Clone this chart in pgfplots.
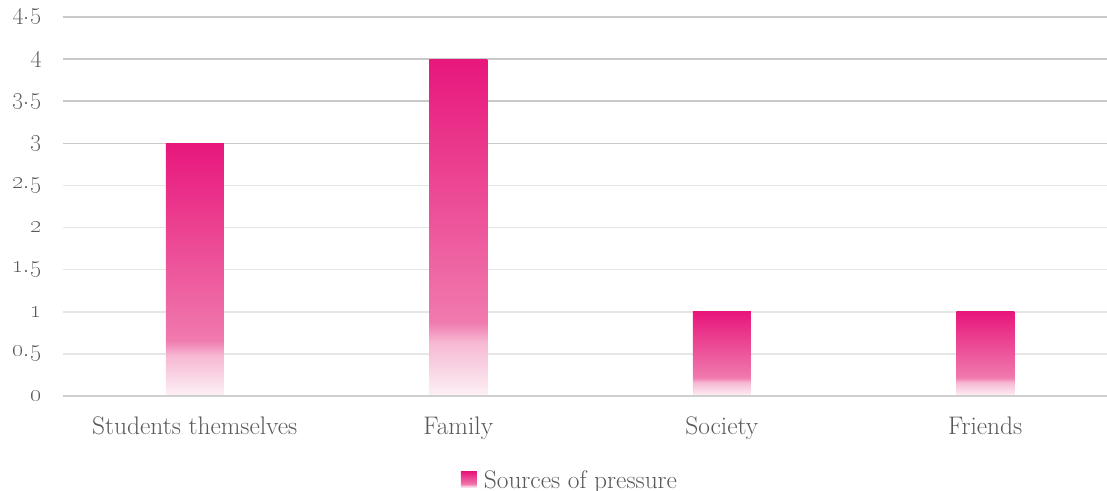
\documentclass[border=0pt]{standalone}
\usepackage{pgfplots}
\pgfplotsset{compat=1.18}
\definecolor{pinkTop}{HTML}{E8177C}
\definecolor{pinkMid}{HTML}{F07AAE}
\definecolor{pinkLight}{HTML}{F6B8D3}
\definecolor{pinkWhite}{HTML}{FDF1F6}
\definecolor{txt}{HTML}{595959}
\definecolor{gridA}{HTML}{C9C9C9}
\definecolor{gridB}{HTML}{E6E6E6}
\pgfdeclareverticalshading{barshade}{100bp}{color(0bp)=(pinkWhite); color(25bp)=(pinkWhite); color(33bp)=(pinkLight); color(36bp)=(pinkMid); color(75bp)=(pinkTop); color(100bp)=(pinkTop)}
\begin{document}
\begin{tikzpicture}
\begin{axis}[
  name=ax,
  scale only axis=true,
  width=1044bp, height=379bp,
  xmin=-0.5, xmax=3.462,
  ymin=0, ymax=4.5,
  axis line style={draw=none},
  ytick={0,0.5,1,1.5,2,2.5},
  yticklabels={\oldstylenums{0},\oldstylenums{0.5},\oldstylenums{1},\oldstylenums{1.5},\oldstylenums{2},\oldstylenums{2.5}},
  extra y ticks={3,3.5,4,4.5},
  extra y tick labels={\oldstylenums{3},\oldstylenums{3.5},\oldstylenums{4},\oldstylenums{4.5}},
  extra y tick style={grid style={draw=gridA, line width=1.5bp}},
  ymajorgrids=true,
  grid style={draw=gridB, line width=1.5bp},
  major tick length=0pt,
  xtick={0,1,2,3},
  xticklabels={Students themselves,Family,Society,Friends},
  ticklabel style={font=\fontsize{25.5}{28}\selectfont, text=txt},
  yticklabel style={xshift=-18bp},
  xticklabel style={yshift=-17bp},
  legend style={at={(0.4856,-0.2216)}, anchor=center, draw=none, fill=none,
    font=\fontsize{25.5}{28}\selectfont, text=txt, legend columns=1,
    legend cell align=left,
    /tikz/every odd column/.append style={column sep=0pt}},
  legend image code/.code={\fill[shading=barshade] (0bp,-8bp) rectangle (16bp,8bp); \path (21bp,0bp);},
  clip=false,
]
\addplot[ybar, bar width=58bp, bar shift=0pt, draw=none, shading=barshade] coordinates {(0,3)};
\addlegendentry{Sources of pressure}
\addplot[ybar, bar width=58bp, bar shift=0pt, draw=none, shading=barshade, forget plot] coordinates {(1,4)};
\addplot[ybar, bar width=58bp, bar shift=0pt, draw=none, shading=barshade, forget plot] coordinates {(2,1)};
\addplot[ybar, bar width=58bp, bar shift=0pt, draw=none, shading=barshade, forget plot] coordinates {(3,1)};
\draw[draw=gridA!80!gridB, line width=1.5bp] (axis cs:-0.5,0) -- (axis cs:3.462,0);
\end{axis}
\pgfresetboundingbox
\path[use as bounding box] ([shift={(-63bp,-95bp)}]ax.south west) rectangle ([shift={(0bp,17bp)}]ax.north east);
\end{tikzpicture}
\end{document}
